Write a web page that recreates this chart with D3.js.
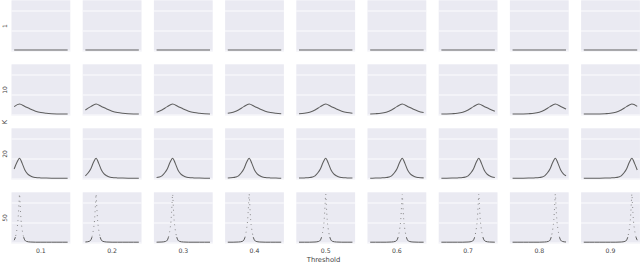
<!DOCTYPE html>
<html>
<head>
<meta charset="utf-8">
<script src="https://cdn.jsdelivr.net/npm/d3@7"></script>
<style>
  html, body { margin: 0; padding: 0; background: #fff; }
  svg { display: block; }
  text { font-family: "DejaVu Sans", sans-serif; fill: #444; }
</style>
</head>
<body>
<svg id="chart" width="640" height="263"></svg>
<script>
// ---- data ----
const thresholds = [0.1, 0.2, 0.3, 0.4, 0.5, 0.6, 0.7, 0.8, 0.9];
const thresholdLabels = ["0.1", "0.2", "0.3", "0.4", "0.5", "0.6", "0.7", "0.8", "0.9"];
const kValues = [1, 10, 20, 50];
const kLabels = ["1", "10", "20", "50"];

// curve shape per K: offset from the threshold -> value
const offsetsK1 = [-1, -0.9, -0.8, -0.7, -0.6, -0.5, -0.4, -0.3, -0.2, -0.1, 0, 0.1, 0.2, 0.3, 0.4, 0.5, 0.6, 0.7, 0.8, 0.9, 1];
const valuesK1  = [0.05, 0.05, 0.05, 0.05, 0.05, 0.05, 0.05, 0.05, 0.05, 0.05, 0.05, 0.05, 0.05, 0.05, 0.05, 0.05, 0.05, 0.05, 0.05, 0.05, 0.05];

const offsetsK10 = [-1, -0.9, -0.8, -0.7, -0.6, -0.5, -0.4, -0.3, -0.2, -0.1, 0, 0.1, 0.2, 0.3, 0.4, 0.5, 0.6, 0.7, 0.8, 0.9, 1];
const valuesK10  = [0.05, 0.05, 0.05, 0.05, 0.055, 0.065, 0.085, 0.14, 0.25, 0.42, 0.55, 0.43, 0.3, 0.19, 0.12, 0.085, 0.065, 0.055, 0.05, 0.05, 0.05];

const offsetsK20 = [-1, -0.9, -0.8, -0.7, -0.6, -0.5, -0.4, -0.3, -0.25, -0.2, -0.15, -0.1, -0.05, 0, 0.05, 0.1, 0.15, 0.2, 0.25, 0.3, 0.4, 0.5, 0.6, 0.7, 0.8, 0.9, 1];
const valuesK20  = [0.04, 0.04, 0.04, 0.04, 0.04, 0.045, 0.055, 0.07, 0.1, 0.16, 0.3, 0.5, 0.82, 1.04, 0.78, 0.45, 0.26, 0.16, 0.1, 0.075, 0.055, 0.045, 0.04, 0.04, 0.04, 0.04, 0.04];

const offsetsK50 = [-1, -0.9, -0.8, -0.7, -0.6, -0.5, -0.4, -0.3, -0.2, -0.13, -0.1, -0.08, -0.06, -0.045, -0.03, -0.02, -0.01, 0, 0.01, 0.02, 0.03, 0.045, 0.06, 0.08, 0.1, 0.13, 0.2, 0.3, 0.4, 0.5, 0.6, 0.7, 0.8, 0.9, 1];
const valuesK50  = [0.04, 0.04, 0.04, 0.04, 0.04, 0.04, 0.04, 0.04, 0.05, 0.08, 0.14, 0.27, 0.5, 0.75, 1.1, 1.5, 2.0, 2.45, 2.0, 1.5, 1.1, 0.75, 0.5, 0.27, 0.14, 0.08, 0.05, 0.04, 0.04, 0.04, 0.04, 0.04, 0.04, 0.04, 0.04];

const shapeOffsets = [offsetsK1, offsetsK10, offsetsK20, offsetsK50];
const shapeValues = [valuesK1, valuesK10, valuesK20, valuesK50];
const gridValues = [0, 1, 2];

// ---- layout ----
const svg = d3.select("#chart");
const colLeft = 11.5, colPitch = 71.2, panelW = 58.8;
const rowTop = 0.3, rowPitch = 64, panelH = 51.4;

const x = d3.scaleLinear().domain([-0.05, 1.05]).range([0, panelW]);
const y = d3.scaleLinear().domain([-0.035, 2.535]).range([panelH, 0]);

const defs = svg.append("defs");
defs.append("clipPath").attr("id", "clipLow")
  .append("rect").attr("x", -2).attr("y", y(0.3)).attr("width", panelW + 4).attr("height", panelH - y(0.3) + 2);
defs.append("clipPath").attr("id", "clipHigh")
  .append("rect").attr("x", -2).attr("y", -2).attr("width", panelW + 4).attr("height", y(0.3) + 2);

const line = d3.line()
  .x(d => x(d[0]))
  .y(d => y(d[1]))
  .curve(d3.curveMonotoneX);

kValues.forEach((k, r) => {
  const offs = shapeOffsets[r], vals = shapeValues[r];
  thresholds.forEach((t, c) => {
    const g = svg.append("g")
      .attr("transform", `translate(${colLeft + c * colPitch},${rowTop + r * rowPitch})`);
    g.append("rect").attr("width", panelW).attr("height", panelH).attr("fill", "#EAEAF2");
    g.selectAll("line.grid").data(gridValues).enter().append("line")
      .attr("x1", 0).attr("x2", panelW)
      .attr("y1", d => y(d)).attr("y2", d => y(d))
      .attr("stroke", "#fff").attr("stroke-width", 0.9);
    const pts = offs.map((o, i) => [t + o, vals[i]])
      .filter(p => p[0] >= -1e-9 && p[0] <= 1 + 1e-9)
      .map(p => [Math.min(1, Math.max(0, p[0])), p[1]]);
    if (k === 50) {
      g.append("path").datum(pts)
        .attr("d", line).attr("fill", "none")
        .attr("stroke", "#5a5a5a").attr("stroke-width", 1)
        .attr("clip-path", "url(#clipLow)");
      g.append("path").datum(pts)
        .attr("d", line).attr("fill", "none")
        .attr("stroke", "#777").attr("stroke-width", 0.9)
        .attr("stroke-dasharray", "0.9,4")
        .attr("clip-path", "url(#clipHigh)");
    } else {
      g.append("path").datum(pts)
        .attr("d", line)
        .attr("fill", "none")
        .attr("stroke", "#5e5e5e")
        .attr("stroke-width", k === 1 ? 1.2 : 1.05);
    }
  });
  svg.append("text")
    .attr("transform", `translate(4.7,${rowTop + r * rowPitch + panelH / 2}) rotate(-90)`)
    .attr("text-anchor", "middle").attr("dy", "0.35em")
    .attr("font-size", 6).text(kLabels[r]);
});

thresholds.forEach((t, c) => {
  svg.append("text")
    .attr("x", colLeft + c * colPitch + panelW / 2)
    .attr("y", 252.5)
    .attr("text-anchor", "middle")
    .attr("font-size", 6.2)
    .text(thresholdLabels[c]);
});

svg.append("text")
  .attr("x", 323.5).attr("y", 262)
  .attr("text-anchor", "middle").attr("font-size", 6.8)
  .text("Threshold");

svg.append("text")
  .attr("transform", "translate(4.7,122) rotate(-90)")
  .attr("text-anchor", "middle").attr("dy", "0.35em")
  .attr("font-size", 6.8).text("K");
</script>
</body>
</html>
